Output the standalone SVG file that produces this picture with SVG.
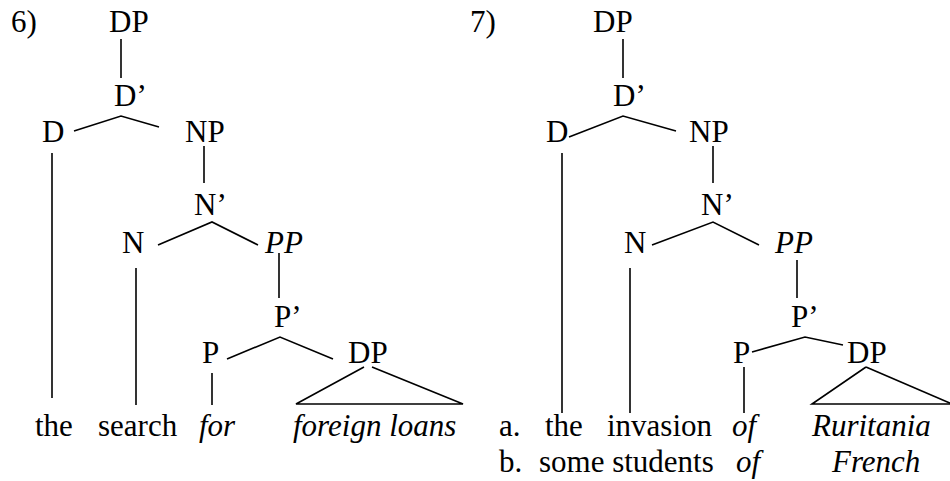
<svg xmlns="http://www.w3.org/2000/svg" width="950" height="481" viewBox="0 0 950 481">
<style>
text{font-size:31px;fill:#000}
.c line,.c polyline{stroke:#000;stroke-width:1.6;fill:none}
</style>
<rect width="950" height="481" fill="#fff"/>
<text style="font-family:'Liberation Serif'" x="11" y="32">6)</text>
<text style="font-family:'Liberation Serif'" x="470" y="32">7)</text>
<g id="t6-DP"><text style="font-family:'Liberation Serif'" x="109" y="32">DP</text></g>
<g id="t6-Dbar"><text style="font-family:'Liberation Serif'" x="114" y="106">D’</text></g>
<g id="t6-D"><text style="font-family:'Liberation Serif'" x="42" y="142">D</text></g>
<g id="t6-NP"><text style="font-family:'Liberation Serif'" x="185" y="142">NP</text></g>
<g id="t6-Nbar"><text style="font-family:'Liberation Serif'" x="194" y="215">N’</text></g>
<g id="t6-N"><text style="font-family:'Liberation Serif'" x="122" y="253">N</text></g>
<g id="t6-PP"><text style="font-family:'Liberation Serif';font-style:italic" x="265" y="253">PP</text></g>
<g id="t6-Pbar"><text style="font-family:'Liberation Serif'" x="274" y="327">P’</text></g>
<g id="t6-P"><text style="font-family:'Liberation Serif'" x="202" y="363">P</text></g>
<g id="t6-DP2"><text style="font-family:'Liberation Serif'" x="348" y="363">DP</text></g>
<g id="t6-the"><text style="font-family:'Liberation Serif'" x="35" y="436">the</text></g>
<g id="t6-search"><text style="font-family:'Liberation Serif'" x="98" y="436">search</text></g>
<g id="t6-for"><text style="font-family:'Liberation Serif';font-style:italic" x="199" y="436">for</text></g>
<g id="t6-loans"><text style="font-family:'Liberation Serif';font-style:italic" x="293" y="436">foreign loans</text></g>
<g id="t7-DP"><text style="font-family:'Liberation Serif'" x="593" y="32">DP</text></g>
<g id="t7-Dbar"><text style="font-family:'Liberation Serif'" x="613" y="106">D’</text></g>
<g id="t7-D"><text style="font-family:'Liberation Serif'" x="546" y="142">D</text></g>
<g id="t7-NP"><text style="font-family:'Liberation Serif'" x="689" y="142">NP</text></g>
<g id="t7-Nbar"><text style="font-family:'Liberation Serif'" x="701" y="215">N’</text></g>
<g id="t7-N"><text style="font-family:'Liberation Serif'" x="624" y="253">N</text></g>
<g id="t7-PP"><text style="font-family:'Liberation Serif';font-style:italic" x="775" y="253">PP</text></g>
<g id="t7-Pbar"><text style="font-family:'Liberation Serif'" x="791" y="327">P’</text></g>
<g id="t7-P"><text style="font-family:'Liberation Serif'" x="733" y="363">P</text></g>
<g id="t7-DP2"><text style="font-family:'Liberation Serif'" x="847" y="363">DP</text></g>
<g id="t7-a">
<text style="font-family:'Liberation Serif'" x="499" y="436">a.</text>
<text style="font-family:'Liberation Serif'" x="545" y="436">the</text>
<text style="font-family:'Liberation Serif'" x="607" y="436">invasion</text>
<text style="font-family:'Liberation Serif';font-style:italic" x="732" y="436">of</text>
<text style="font-family:'Liberation Serif';font-style:italic" x="812" y="436">Ruritania</text>
</g>
<g id="t7-b">
<text style="font-family:'Liberation Serif'" x="499" y="472">b.</text>
<text style="font-family:'Liberation Serif'" x="539" y="472">some students</text>
<text style="font-family:'Liberation Serif';font-style:italic" x="736" y="472">of</text>
<text style="font-family:'Liberation Serif';font-style:italic" x="832" y="472">French</text>
</g>
<g class="c" id="connectors">
<line x1="121" y1="39" x2="121" y2="78"/>
<polyline points="74,131 121,116 159,127"/>
<line x1="52" y1="153" x2="52" y2="398"/>
<line x1="204" y1="146" x2="204" y2="183"/>
<polyline points="158,245 212,222 258,245"/>
<line x1="136" y1="268" x2="136" y2="405"/>
<line x1="279" y1="253" x2="279" y2="298"/>
<polyline points="227,359 280,337 333,359"/>
<line x1="212" y1="373" x2="212" y2="405"/>
<polyline points="364,367 296,404 463,404 372,367"/>
<line x1="623" y1="39" x2="623" y2="78"/>
<polyline points="569,137 623,116 676,131"/>
<line x1="562" y1="153" x2="562" y2="413"/>
<line x1="713" y1="146" x2="713" y2="183"/>
<polyline points="652,245 713,222 759,245"/>
<line x1="630" y1="268" x2="630" y2="413"/>
<line x1="797" y1="260" x2="797" y2="298"/>
<polyline points="752,352 805,337 843,345"/>
<line x1="744" y1="367" x2="744" y2="413"/>
<polyline points="866,367 812,404 952,404"/>
<line x1="866" y1="367" x2="952" y2="404"/>
</g>
</svg>
